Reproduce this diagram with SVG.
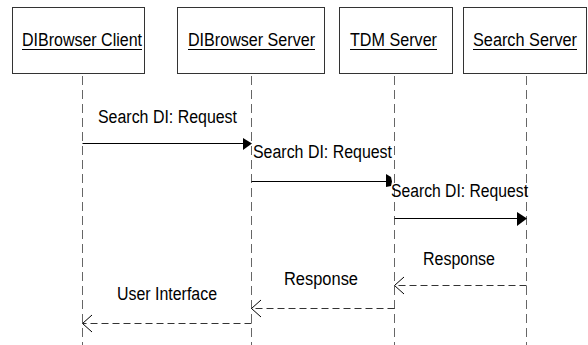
<svg xmlns="http://www.w3.org/2000/svg" width="588" height="345" viewBox="0 0 588 345">
<style>
.box{fill:#fff;stroke:#333;stroke-width:1}
.t{font-family:"Liberation Sans",Arial,sans-serif;font-size:18px;fill:#000}
.life{stroke:#666;stroke-width:1;stroke-dasharray:9,5;fill:none}
.msg{stroke:#000;stroke-width:1;fill:none}
.ret{stroke:#333;stroke-width:1;stroke-dasharray:7,4;fill:none}
.ul{stroke:#000;stroke-width:1.2}
.open{stroke:#000;stroke-width:1;fill:none}
</style>
<rect width="588" height="345" fill="#fff"/>
<g id="client">
<rect class="box" x="12.5" y="7.5" width="132" height="66"/>
<text class="t" x="22" y="46" textLength="120" lengthAdjust="spacingAndGlyphs">DIBrowser Client</text>
<line class="ul" x1="22" y1="49.5" x2="142" y2="49.5"/>
<line class="life" x1="82.5" y1="76" x2="82.5" y2="345"/>
</g>
<g id="dibserver">
<rect class="box" x="177.5" y="7.5" width="147" height="66"/>
<text class="t" x="188" y="46" textLength="127" lengthAdjust="spacingAndGlyphs">DIBrowser Server</text>
<line class="ul" x1="188" y1="49.5" x2="315" y2="49.5"/>
<line class="life" x1="251.5" y1="76" x2="251.5" y2="345"/>
</g>
<g id="tdm">
<rect class="box" x="339.5" y="7.5" width="113" height="66"/>
<text class="t" x="350" y="46" textLength="87" lengthAdjust="spacingAndGlyphs">TDM Server</text>
<line class="ul" x1="350" y1="49.5" x2="437" y2="49.5"/>
<line class="life" x1="394.5" y1="76" x2="394.5" y2="345"/>
</g>
<g id="search">
<rect class="box" x="463.5" y="7.5" width="123" height="66"/>
<text class="t" x="473" y="46" textLength="104" lengthAdjust="spacingAndGlyphs">Search Server</text>
<line class="ul" x1="473" y1="49.5" x2="577" y2="49.5"/>
<line class="life" x1="526.5" y1="76" x2="526.5" y2="345"/>
</g>
<g id="connectors">
<line class="msg" x1="82.5" y1="143.5" x2="244" y2="143.5"/>
<polygon points="243,138 252,143.5 243,150" fill="#000"/>
<text class="t" x="98" y="123" textLength="139" lengthAdjust="spacingAndGlyphs">Search DI: Request</text>
<line class="msg" x1="251.5" y1="181.5" x2="388" y2="181.5"/>
<polygon points="386,174 391,177 392,181.5 391,186 386,187" fill="#000"/>
<text class="t" x="253" y="158" textLength="139" lengthAdjust="spacingAndGlyphs">Search DI: Request</text>
<line class="msg" x1="394.5" y1="218.5" x2="518" y2="218.5"/>
<polygon points="517,212 527,218.5 517,226" fill="#000"/>
<text class="t" x="391" y="197" textLength="137" lengthAdjust="spacingAndGlyphs">Search DI: Request</text>
<line class="ret" x1="526.5" y1="285.5" x2="395" y2="285.5"/>
<polyline class="open" points="404,277 394.5,285.5 404,294"/>
<text class="t" x="423" y="265" textLength="72" lengthAdjust="spacingAndGlyphs">Response</text>
<line class="ret" x1="394.5" y1="308.5" x2="252" y2="308.5"/>
<polyline class="open" points="261,300 251.5,308.5 261,317"/>
<text class="t" x="284" y="285" textLength="74" lengthAdjust="spacingAndGlyphs">Response</text>
<line class="ret" x1="251.5" y1="323.5" x2="83" y2="323.5"/>
<polyline class="open" points="92,315 82.5,323.5 92,332"/>
<text class="t" x="117" y="300" textLength="100" lengthAdjust="spacingAndGlyphs">User Interface</text>
</g>
</svg>
